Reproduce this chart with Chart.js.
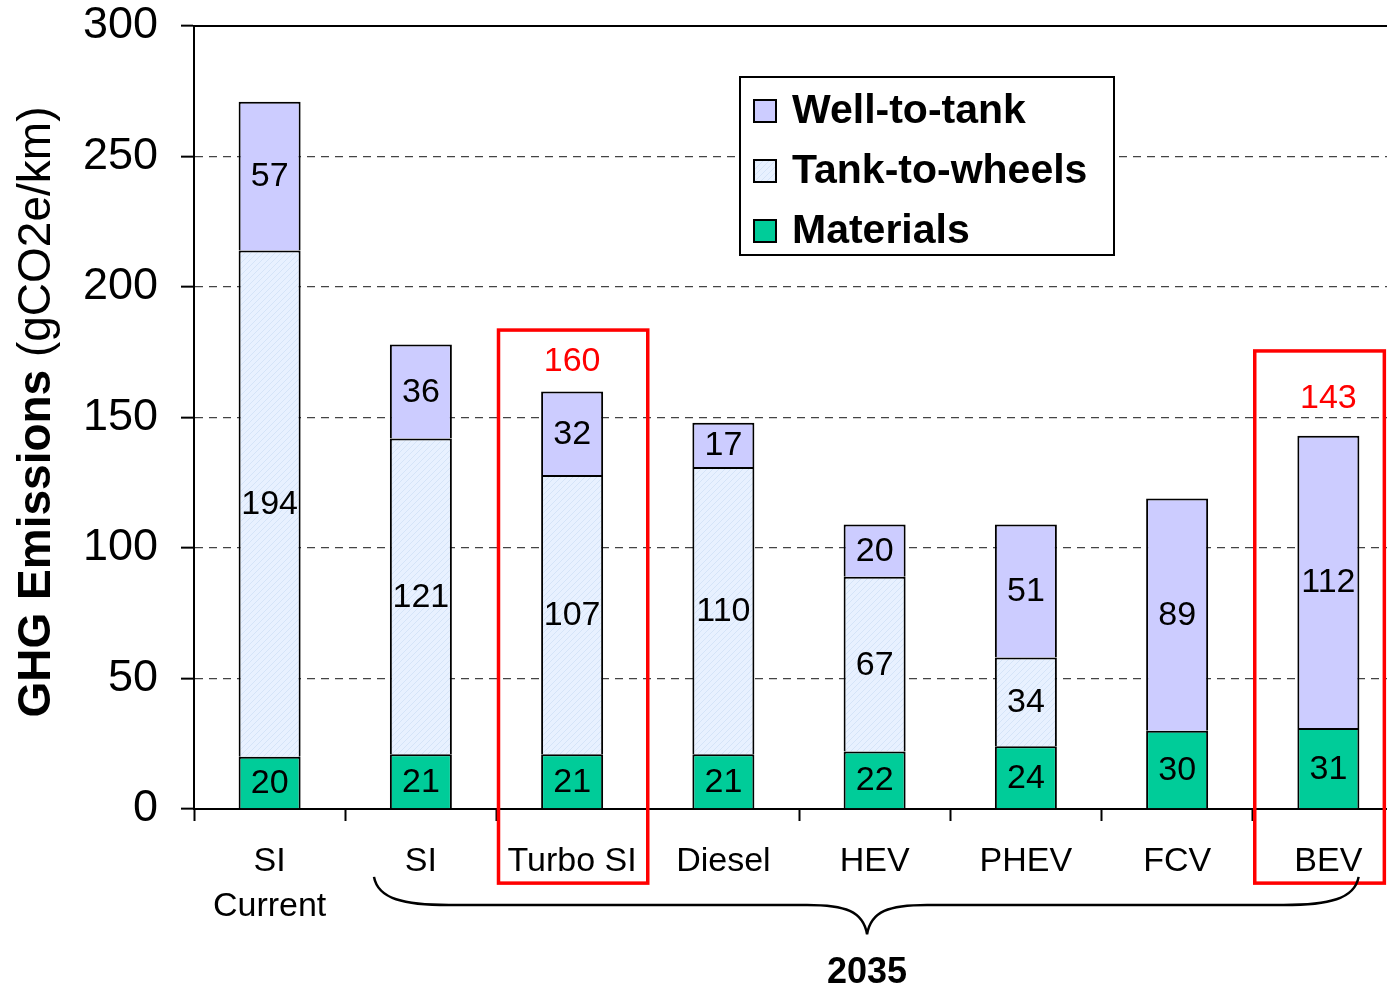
<!DOCTYPE html>
<html>
<head>
<meta charset="utf-8">
<title>GHG Emissions</title>
<script src="https://cdn.jsdelivr.net/npm/chart.js@4.4.1/dist/chart.umd.min.js"></script>
<style>
  html, body { margin: 0; padding: 0; background: #fff; overflow: hidden; }
  #wrap { width: 1404px; height: 989px; }
</style>
</head>
<body>
<div id="wrap"><canvas id="chart" width="1404" height="989"></canvas></div>
<script>
// data
const categories = [['SI', 'Current'], 'SI', 'Turbo SI', 'Diesel', 'HEV', 'PHEV', 'FCV', 'BEV'];
const materials = [20, 21, 21, 21, 22, 24, 30, 31];
const tankToWheels = [194, 121, 107, 110, 67, 34, 0, 0];
const wellToTank = [57, 36, 32, 17, 20, 51, 89, 112];
const yTicks = [0, 50, 100, 150, 200, 250, 300];
const totalShown = [2, 7];          // bars whose total is printed in red
const groupLabel = '2035';

const FONT = '"Liberation Sans", Arial, sans-serif';

// light blue fill with a faint diagonal hatch
function hatch() {
  const c = document.createElement('canvas');
  c.width = 6; c.height = 6;
  const g = c.getContext('2d');
  g.fillStyle = '#E8F1FF';
  g.fillRect(0, 0, 6, 6);
  g.strokeStyle = '#D5E4F8';
  g.lineWidth = 1;
  g.beginPath(); g.moveTo(0, 6); g.lineTo(6, 0); g.stroke();
  return g.createPattern(c, 'repeat');
}

const extras = {
  id: 'extras',
  afterDatasetsDraw(chart) {
    const ctx = chart.ctx;
    const x = chart.scales.x, y = chart.scales.y;
    const area = chart.chartArea;

    // solid top border
    ctx.save();
    ctx.strokeStyle = '#000';
    ctx.lineWidth = 2;
    ctx.beginPath();
    ctx.moveTo(area.left, area.top);
    ctx.lineTo(area.right, area.top);
    ctx.stroke();

    // segment values
    ctx.fillStyle = '#000';
    ctx.font = '34px ' + FONT;
    ctx.textAlign = 'center';
    ctx.textBaseline = 'middle';
    chart.data.datasets.forEach((ds, di) => {
      chart.getDatasetMeta(di).data.forEach((bar, i) => {
        const v = ds.data[i];
        if (!v) return;
        ctx.fillText(String(v), bar.x, (bar.y + bar.base) / 2 + 1);
      });
    });

    // red totals and boxes
    const boxes = [{from: 1.5, to: 2.5, top: 183.5, gap: 30}, {from: 6.5, to: 7.37, top: 175.5, gap: 37}];
    ctx.fillStyle = '#FF0000';
    totalShown.forEach((i, k) => {
      const total = materials[i] + tankToWheels[i] + wellToTank[i];
      ctx.fillText(String(total), x.getPixelForValue(i), y.getPixelForValue(total) - boxes[k].gap);
    });
    ctx.strokeStyle = '#FF0000';
    ctx.lineWidth = 3.5;
    boxes.forEach(b => {
      const l = x.getPixelForValue(b.from) + 2, r = x.getPixelForValue(b.to);
      const t = y.getPixelForValue(b.top), btm = y.getPixelForValue(-28.4);
      ctx.strokeRect(l, t, r - l, btm - t);
    });

    // brace under the 2035 group
    const xl = x.getPixelForValue(0.69), xr = x.getPixelForValue(7.2), xm = x.getPixelForValue(3.95);
    const yEnd = y.getPixelForValue(-26), yH = y.getPixelForValue(-36.8), yTip = y.getPixelForValue(-48);
    ctx.strokeStyle = '#000';
    ctx.lineWidth = 2.5;
    ctx.beginPath();
    ctx.moveTo(xl, yEnd);
    ctx.bezierCurveTo(xl + 4, yH - 6, xl + 30, yH, xl + 75, yH);
    ctx.lineTo(xm - 60, yH);
    ctx.bezierCurveTo(xm - 22, yH, xm - 4, yH + 6, xm, yTip);
    ctx.moveTo(xm, yTip);
    ctx.bezierCurveTo(xm + 4, yH + 6, xm + 22, yH, xm + 60, yH);
    ctx.lineTo(xr - 75, yH);
    ctx.bezierCurveTo(xr - 30, yH, xr - 4, yH - 6, xr, yEnd);
    ctx.stroke();

    ctx.fillStyle = '#000';
    ctx.font = 'bold 36px ' + FONT;
    ctx.fillText(groupLabel, xm, y.getPixelForValue(-63));
    ctx.restore();
  },
  afterDraw(chart) {
    const ctx = chart.ctx;
    ctx.save();

    // legend box
    ctx.fillStyle = '#fff';
    ctx.fillRect(740, 77, 374, 178);
    ctx.strokeStyle = '#000';
    ctx.lineWidth = 2;
    ctx.strokeRect(740, 77, 374, 178);
    const order = [2, 1, 0];
    ctx.font = 'bold 41px ' + FONT;
    ctx.textAlign = 'left';
    ctx.textBaseline = 'middle';
    order.forEach((di, k) => {
      const ds = chart.data.datasets[di];
      const cy = 111 + k * 60;
      ctx.fillStyle = ds.backgroundColor;
      ctx.fillRect(754, cy - 11, 22, 22);
      ctx.strokeStyle = '#000';
      ctx.lineWidth = 2;
      ctx.strokeRect(754, cy - 11, 22, 22);
      ctx.fillStyle = '#000';
      ctx.fillText(ds.label, 792, cy + 1);
    });

    // y axis title, bold and regular parts
    ctx.translate(37, 412);
    ctx.rotate(-Math.PI / 2);
    const boldPart = 'GHG Emissions', normalPart = ' (gCO2e/km)';
    ctx.font = 'bold 46px ' + FONT;
    const wb = ctx.measureText(boldPart).width;
    ctx.font = '46px ' + FONT;
    const wn = ctx.measureText(normalPart).width;
    const start = -(wb + wn) / 2;
    ctx.fillStyle = '#000';
    ctx.font = 'bold 46px ' + FONT;
    ctx.fillText(boldPart, start, 0);
    ctx.font = '46px ' + FONT;
    ctx.fillText(normalPart, start + wb, 0);
    ctx.restore();
  }
};

window.addEventListener('DOMContentLoaded', () => {
  const ctx = document.getElementById('chart');
  const common = {
    borderColor: '#000',
    borderWidth: c => (c.raw ? 2 : 0),
    borderSkipped: 'start',
    barPercentage: 0.41,
    categoryPercentage: 1
  };

  new Chart(ctx, {
    type: 'bar',
    data: {
      labels: categories,
      datasets: [
        { label: 'Materials', data: materials, backgroundColor: '#00CC99', ...common },
        { label: 'Tank-to-wheels', data: tankToWheels, backgroundColor: hatch(), ...common },
        { label: 'Well-to-tank', data: wellToTank, backgroundColor: '#CCCCFF', ...common }
      ]
    },
    options: {
      responsive: false,
      animation: false,
      devicePixelRatio: 1,
      layout: { padding: { top: 26, left: 0, right: 0, bottom: 0 } },
      plugins: {
        legend: { display: false },
        tooltip: { enabled: false }
      },
      scales: {
        x: {
          stacked: true,
          afterFit: s => { s.height = 180; s.paddingLeft = 0; s.paddingRight = 0; },
          grid: {
            offset: true,
            drawOnChartArea: false,
            tickLength: 12,
            tickColor: '#000',
            tickWidth: 2
          },
          border: { color: '#000', width: 2 },
          ticks: {
            color: '#000',
            padding: 19,
            maxRotation: 0,
            autoSkip: false,
            font: { family: FONT, size: 34, lineHeight: 1.3 }
          }
        },
        y: {
          stacked: true,
          min: 0,
          max: 300,
          afterFit: s => { s.width = 194; s.paddingTop = 0; s.paddingBottom = 0; },
          afterBuildTicks: s => { s.ticks = yTicks.map(v => ({ value: v })); },
          grid: {
            color: c => (c.tick && (c.tick.value === 0 || c.tick.value === 300)) ? 'rgba(0,0,0,0)' : '#444',
            lineWidth: 1.3,
            tickLength: 13,
            tickColor: '#000',
            tickWidth: 2,
            tickBorderDash: [20, 0]
          },
          border: { color: '#000', width: 2, dash: [8, 6] },
          ticks: {
            color: '#000',
            padding: 23,
            font: { family: FONT, size: 45 }
          }
        }
      }
    },
    plugins: [extras]
  });
});
</script>
</body>
</html>
